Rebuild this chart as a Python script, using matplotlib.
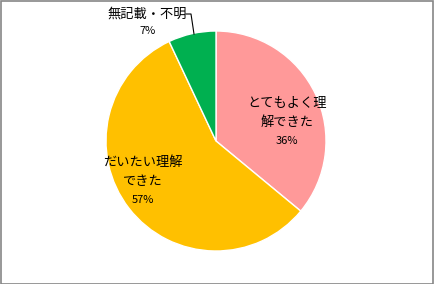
import matplotlib
matplotlib.use("Agg")
import matplotlib.pyplot as plt
from matplotlib.patches import Rectangle

plt.rcParams['font.family'] = ['Noto Sans CJK JP', 'DejaVu Sans']

categories = ["とてもよく理\n解できた", "だいたい理解\nできた", "無記載・不明"]
values = [36, 57, 7]
colors = ["#FF9999", "#FFC000", "#00B050"]

W, H = 434, 284
fig = plt.figure(figsize=(W / 100, H / 100), dpi=100)
ax = fig.add_axes([0, 0, 1, 1])
cx, cy, r = 216, H - 141, 110
ax.pie(values, colors=colors, startangle=90, counterclock=False,
       center=(cx, cy), radius=r,
       wedgeprops=dict(edgecolor="white", linewidth=1))
ax.set_xlim(0, W)
ax.set_ylim(0, H)
ax.set_aspect("equal")
ax.axis("off")

fs = 9.5
# pink label
ax.text(287, H - 113, categories[0], ha="center", va="center", fontsize=fs, linespacing=1.6)
ax.text(287, H - 141, f"{values[0]}%", ha="center", va="center", fontsize=8)
# orange label
ax.text(143, H - 172, categories[1], ha="center", va="center", fontsize=fs, linespacing=1.6)
ax.text(143, H - 200, f"{values[1]}%", ha="center", va="center", fontsize=8)
# green label
ax.text(147, H - 14, categories[2], ha="center", va="center", fontsize=fs)
ax.text(148, H - 31, f"{values[2]}%", ha="center", va="center", fontsize=8)
ax.plot([186, 191, 194], [H - 14, H - 14, H - 34], color="black", linewidth=0.8)

fig.add_artist(Rectangle((0.5 / W, 0.5 / H), 1 - 1.5 / W, 1 - 1.5 / H,
                         transform=fig.transFigure, fill=False,
                         edgecolor="#868686", linewidth=1.2))
fig.savefig("out.png", dpi=100)
